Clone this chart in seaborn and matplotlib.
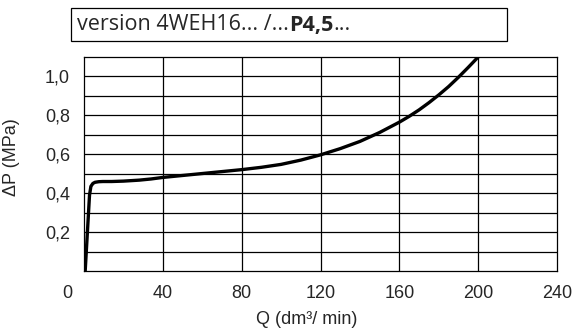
import numpy as np
import pandas as pd
import seaborn as sns
import matplotlib.pyplot as plt
from matplotlib.patches import Rectangle
from matplotlib.transforms import ScaledTranslation

# curve
flow = [0.6, 2.8, 3.5, 4.5, 5.6, 7.5, 9.6, 14, 20, 28, 34, 40, 50, 60, 70, 80, 90,
        100, 110, 120, 130, 140, 150, 160, 165, 170, 175, 180, 185, 190, 195, 200]
dp = [0.0, 0.39, 0.435, 0.45, 0.456, 0.459, 0.46, 0.46, 0.462, 0.467, 0.473, 0.481,
      0.491, 0.501, 0.511, 0.521, 0.533, 0.548, 0.57, 0.597, 0.629, 0.666, 0.712,
      0.765, 0.795, 0.828, 0.865, 0.905, 0.948, 0.996, 1.047, 1.10]

x_ticks = [0, 40, 80, 120, 160, 200, 240]
x_labels = ['0', '40', '80', '120', '160', '200', '240']
y_ticks = [0.2, 0.4, 0.6, 0.8, 1.0]
y_labels = ['0,2', '0,4', '0,6', '0,8', '1,0']

df = pd.DataFrame({'Q': flow, 'dP': dp})

sns.set_style("white")
plt.rcParams['font.family'] = ['Liberation Sans', 'DejaVu Sans']
arial = ['Liberation Sans', 'DejaVu Sans']

fig = plt.figure(figsize=(5.78, 3.34), dpi=100)
ax = fig.add_axes([84 / 578, 1 - 271 / 334, 473 / 578, 214 / 334])

# grid drawn by hand so it matches the chart's spacing
for gx in [40, 80, 120, 160, 200]:
    ax.axvline(gx, color='black', lw=0.9, zorder=1)
for gy in np.arange(0.1, 1.05, 0.1):
    ax.axhline(gy, color='black', lw=0.9, zorder=1)

sns.lineplot(data=df, x='Q', y='dP', color='black', linewidth=2.4,
             estimator=None, sort=False, ax=ax, zorder=3)
ax.lines[-1].set_solid_joinstyle('round')
ax.lines[-1].set_solid_capstyle('round')

ax.set_xlim(0, 240)
ax.set_ylim(0, 1.1)
ax.set_xticks(x_ticks)
ax.set_xticklabels(x_labels, fontsize=13, family=arial)
ax.set_yticks(y_ticks)
ax.set_yticklabels(y_labels, fontsize=13, family=arial)
ax.tick_params(length=0, pad=10)
for s in ax.spines.values():
    s.set_color('black')
    s.set_linewidth(0.9)

# the "0" label sits left of the axis corner
lab0 = ax.get_xticklabels()[0]
lab0.set_transform(lab0.get_transform() + ScaledTranslation(-17 / 100, 0, fig.dpi_scale_trans))

ax.set_xlabel('Q (dm³/ min)', fontsize=13, family=arial)
ax.xaxis.set_label_coords(0.47, -0.185)
ax.set_ylabel('ΔP (MPa)', fontsize=13, family=arial)
ax.yaxis.set_label_coords(-0.135, 0.53)

# header box
fig.patches.append(Rectangle((71 / 578, 1 - 41 / 334), 436 / 578, 33 / 334,
                             transform=fig.transFigure, fill=False,
                             edgecolor='black', linewidth=0.9))
renderer = fig.canvas.get_renderer()
x0 = 77 / 578
yb = 1 - 25 / 334
parts = [('version 4WEH16... /...', 'normal'), ('P4,5', 'bold'), ('...', 'normal')]
for txt, w in parts:
    t = fig.text(x0, yb, txt, fontsize=15.5, fontweight=w, va='center', ha='left',
                 family=['Open Sans', 'DejaVu Sans'])
    bb = t.get_window_extent(renderer=renderer)
    x0 += bb.width / fig.bbox.width

fig.savefig('out.png', dpi=100)
